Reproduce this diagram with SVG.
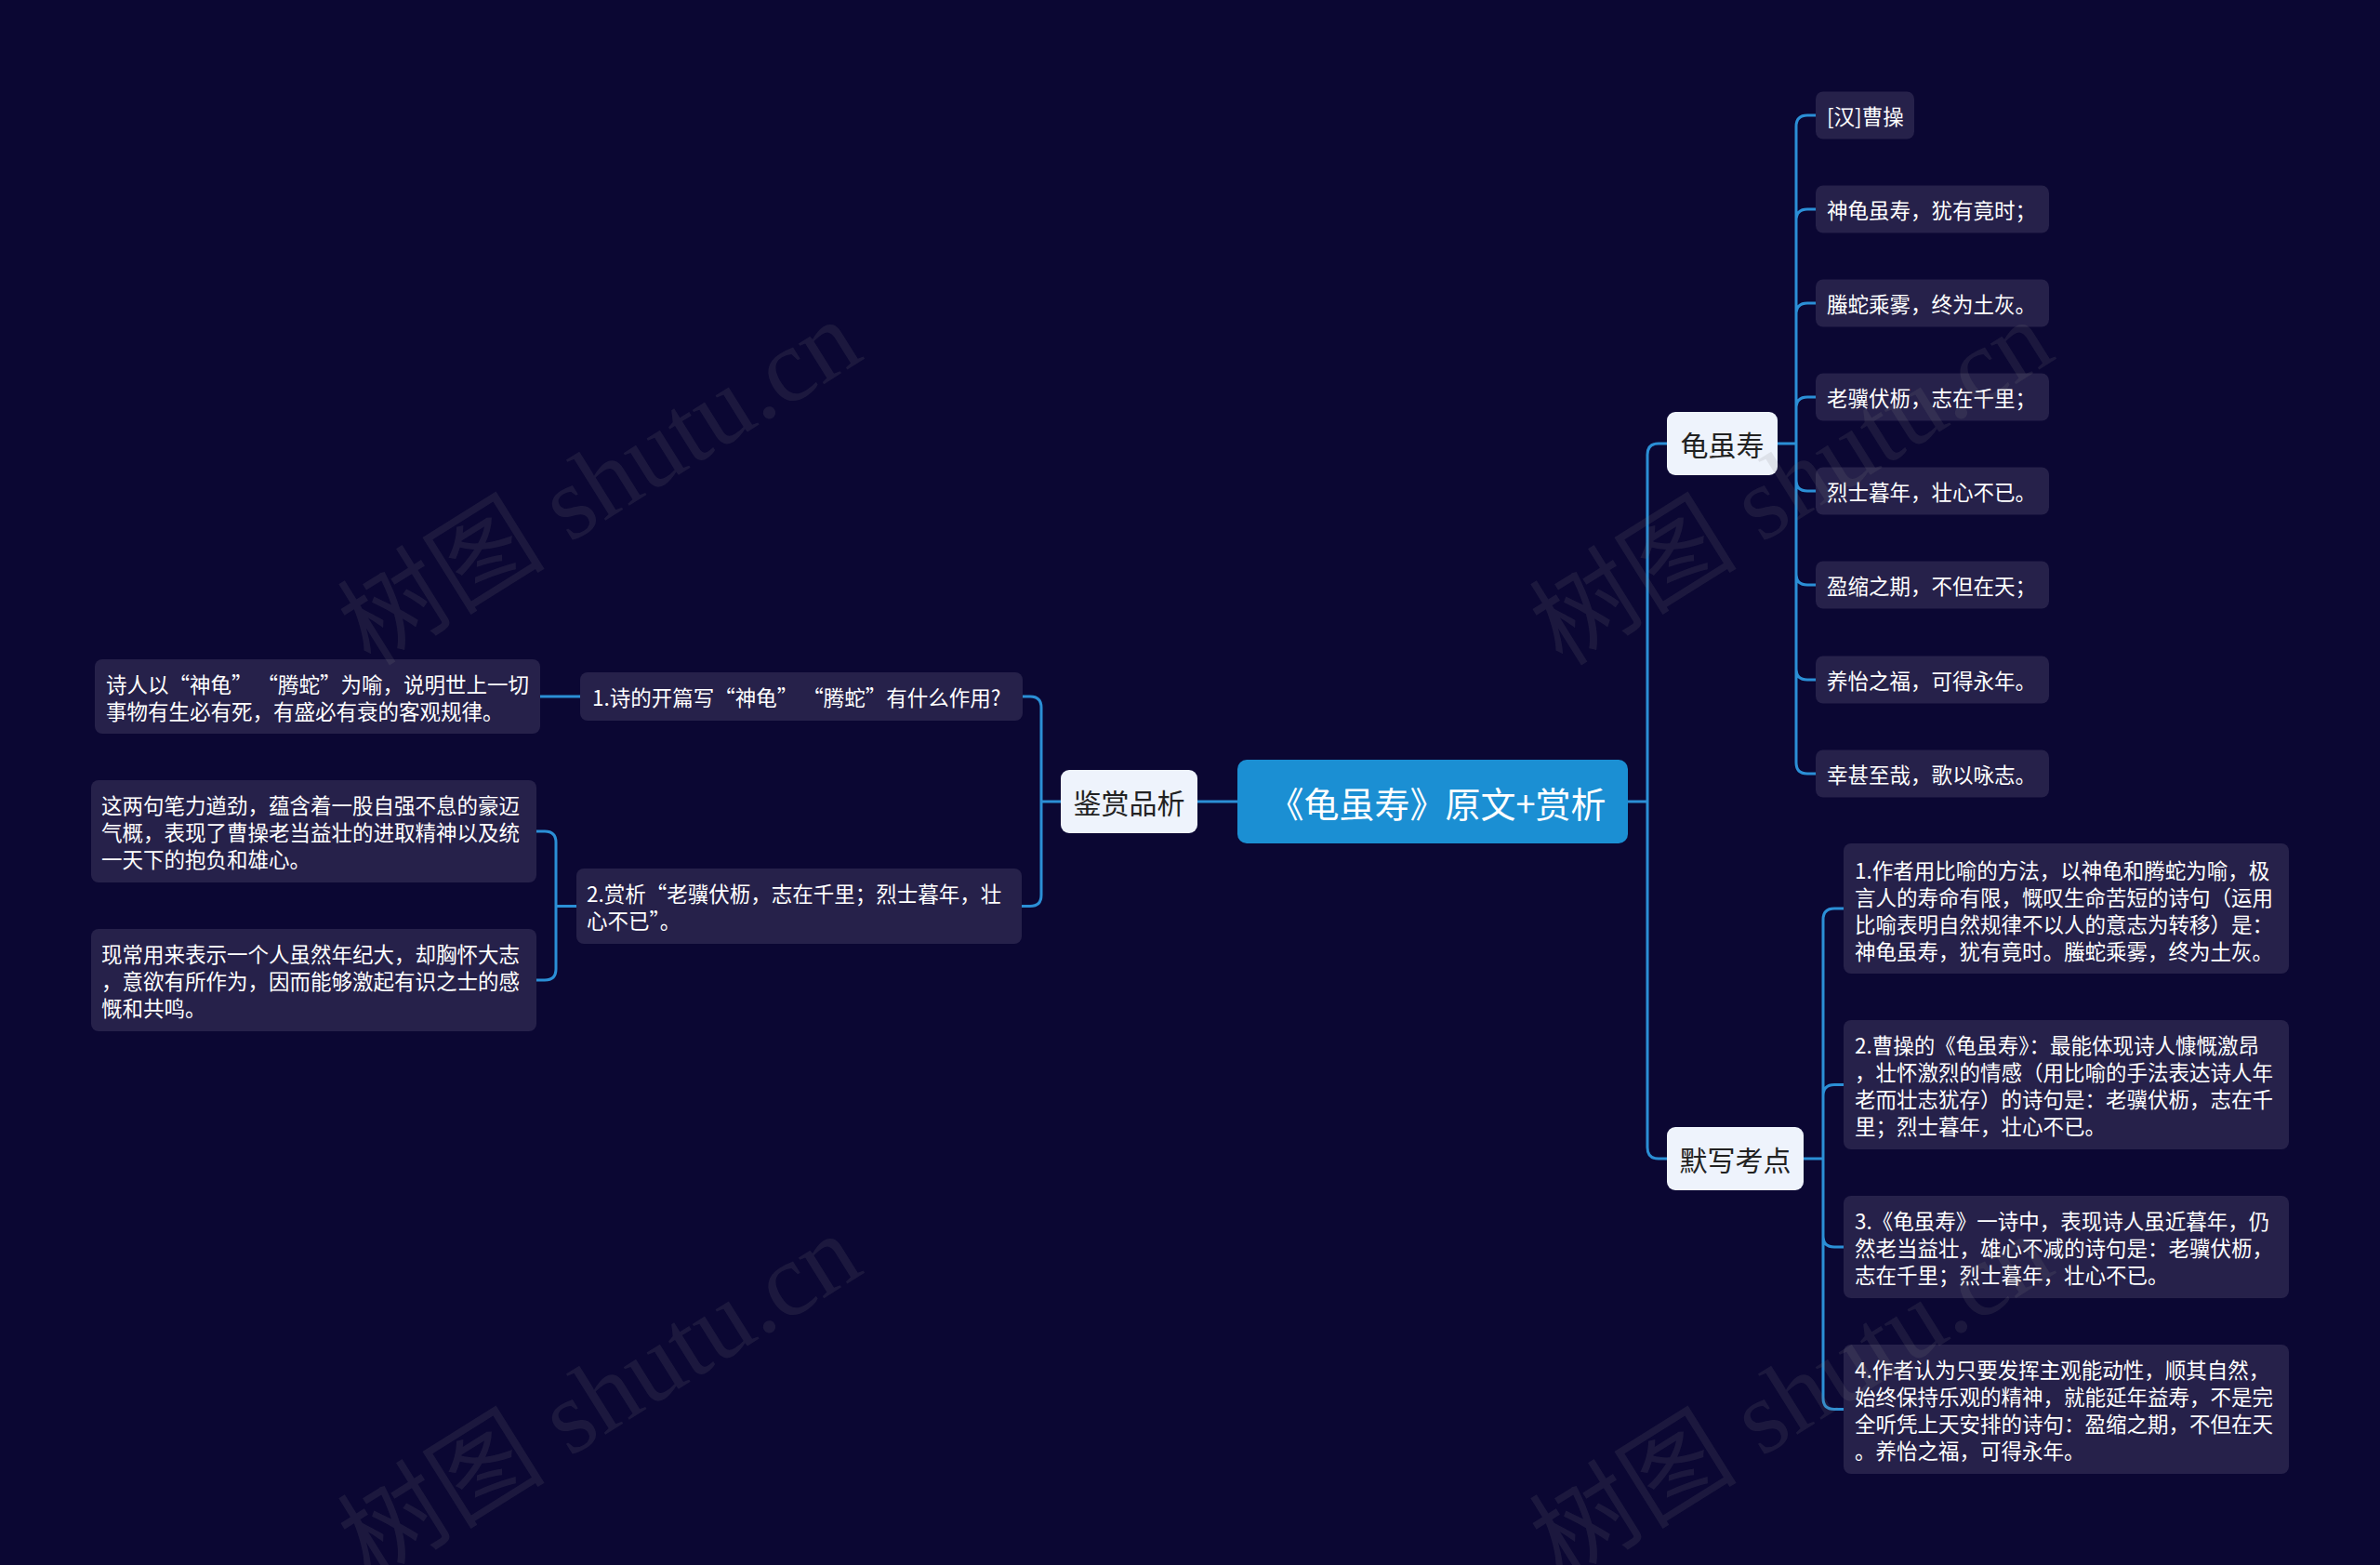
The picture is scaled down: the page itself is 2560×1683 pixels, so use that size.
<svg xmlns="http://www.w3.org/2000/svg" width="2560" height="1683" viewBox="0 0 2560 1683">
<style>
.bg{fill:#0b0733}
.ln{fill:none;stroke:#2b8fd6;stroke-width:3;stroke-linecap:round}
.root{fill:#1b8fd3}
.rt{font-family:"Noto Sans CJK SC","Noto Sans",sans-serif;font-size:38px;fill:#ffffff;text-anchor:middle;dominant-baseline:central}
.mid{fill:#eef3fc}
.mt{font-family:"Noto Sans CJK SC","Noto Sans",sans-serif;font-size:30px;fill:#222222;text-anchor:middle;dominant-baseline:central}
.lf{fill:#26214a}
.lt{font-family:"Noto Sans CJK SC","Noto Sans",sans-serif;font-size:22.5px;fill:#ffffff;dominant-baseline:central}
.wm{font-family:"Liberation Serif","Noto Sans CJK SC",serif;font-size:112px;fill:#808080;fill-opacity:0.15;text-anchor:middle;dominant-baseline:central}
</style>
<rect class="bg" x="0" y="0" width="2560" height="1683"/>
<g id="connectors">
<path class="ln" d="M1751,862 H1772 M1772,862 V489 Q1772,477 1784,477 H1793 M1772,862 V1234 Q1772,1246 1784,1246 H1793"/>
<path class="ln" d="M1912,477 H1932 M1932,477 V136 Q1932,124 1944,124 H1953 M1932,477 V237 Q1932,225 1944,225 H1953 M1932,477 V338 Q1932,326 1944,326 H1953 M1932,477 V439 Q1932,427 1944,427 H1953 M1932,477 V516 Q1932,528 1944,528 H1953 M1932,477 V617 Q1932,629 1944,629 H1953 M1932,477 V719 Q1932,731 1944,731 H1953 M1932,477 V820 Q1932,832 1944,832 H1953"/>
<path class="ln" d="M1940,1246 H1961 M1961,1246 V989 Q1961,977 1973,977 H1983 M1961,1246 V1178.5 Q1961,1166.5 1973,1166.5 H1983 M1961,1246 V1329 Q1961,1341 1973,1341 H1983 M1961,1246 V1503.5 Q1961,1515.5 1973,1515.5 H1983"/>
<path class="ln" d="M1331,862 H1288"/>
<path class="ln" d="M1141,862 H1120 M1120,862 V761 Q1120,749 1108,749 H1100 M1120,862 V962.5 Q1120,974.5 1108,974.5 H1099"/>
<path class="ln" d="M624,749 H581"/>
<path class="ln" d="M620,974.5 H598 M598,974.5 V906 Q598,894 586,894 H577 M598,974.5 V1042 Q598,1054 586,1054 H577"/>
</g>
<g id="root"><rect class="root" x="1331" y="817" width="420" height="90" rx="10"/><text class="rt" x="1546" y="862">《龟虽寿》原文+赏析</text></g>
<g id="n-guisuishou"><rect class="mid" x="1793" y="443" width="119" height="68" rx="9"/><text class="mt" x="1852.5" y="477">龟虽寿</text></g>
<g id="n-moxie"><rect class="mid" x="1793" y="1212" width="147" height="68" rx="9"/><text class="mt" x="1866.5" y="1246">默写考点</text></g>
<g id="n-jianshang"><rect class="mid" x="1141" y="828" width="147" height="68" rx="9"/><text class="mt" x="1214.5" y="862">鉴赏品析</text></g>
<g id="p1"><rect class="lf" x="1953" y="98.5" width="106" height="51" rx="8"/><text class="lt" x="1965" y="124">[汉]曹操</text></g>
<g id="p2"><rect class="lf" x="1953" y="199.5" width="251" height="51" rx="8"/><text class="lt" x="1965" y="225">神龟虽寿，犹有竟时；</text></g>
<g id="p3"><rect class="lf" x="1953" y="300.5" width="251" height="51" rx="8"/><text class="lt" x="1965" y="326">螣蛇乘雾，终为土灰。</text></g>
<g id="p4"><rect class="lf" x="1953" y="401.5" width="251" height="51" rx="8"/><text class="lt" x="1965" y="427">老骥伏枥，志在千里；</text></g>
<g id="p5"><rect class="lf" x="1953" y="502.5" width="251" height="51" rx="8"/><text class="lt" x="1965" y="528">烈士暮年，壮心不已。</text></g>
<g id="p6"><rect class="lf" x="1953" y="603.5" width="251" height="51" rx="8"/><text class="lt" x="1965" y="629">盈缩之期，不但在天；</text></g>
<g id="p7"><rect class="lf" x="1953" y="705.5" width="251" height="51" rx="8"/><text class="lt" x="1965" y="731">养怡之福，可得永年。</text></g>
<g id="p8"><rect class="lf" x="1953" y="806.5" width="251" height="51" rx="8"/><text class="lt" x="1965" y="832">幸甚至哉，歌以咏志。</text></g>
<g id="m1"><rect class="lf" x="1983" y="907" width="479" height="140" rx="8"/><text class="lt"><tspan x="1995" y="934.5">1.作者用比喻的方法，以神龟和腾蛇为喻，极</tspan><tspan x="1995" y="963.5">言人的寿命有限，慨叹生命苦短的诗句（运用</tspan><tspan x="1995" y="992.5">比喻表明自然规律不以人的意志为转移）是：</tspan><tspan x="1995" y="1021.5">神龟虽寿，犹有竟时。螣蛇乘雾，终为土灰。</tspan></text></g>
<g id="m2"><rect class="lf" x="1983" y="1097" width="479" height="139" rx="8"/><text class="lt"><tspan x="1995" y="1123">2.曹操的《龟虽寿》：最能体现诗人慷慨激昂</tspan><tspan x="1995" y="1152">，壮怀激烈的情感（用比喻的手法表达诗人年</tspan><tspan x="1995" y="1181">老而壮志犹存）的诗句是：老骥伏枥，志在千</tspan><tspan x="1995" y="1210">里；烈士暮年，壮心不已。</tspan></text></g>
<g id="m3"><rect class="lf" x="1983" y="1286" width="479" height="110" rx="8"/><text class="lt"><tspan x="1995" y="1312">3.《龟虽寿》一诗中，表现诗人虽近暮年，仍</tspan><tspan x="1995" y="1341">然老当益壮，雄心不减的诗句是：老骥伏枥，</tspan><tspan x="1995" y="1370">志在千里；烈士暮年，壮心不已。</tspan></text></g>
<g id="m4"><rect class="lf" x="1983" y="1446" width="479" height="139" rx="8"/><text class="lt"><tspan x="1995" y="1472">4.作者认为只要发挥主观能动性，顺其自然，</tspan><tspan x="1995" y="1501">始终保持乐观的精神，就能延年益寿，不是完</tspan><tspan x="1995" y="1530">全听凭上天安排的诗句：盈缩之期，不但在天</tspan><tspan x="1995" y="1559">。养怡之福，可得永年。</tspan></text></g>
<g id="q1"><rect class="lf" x="624" y="723" width="476" height="52" rx="8"/><text class="lt" x="637" y="749">1.诗的开篇写“神龟” “腾蛇”有什么作用?</text></g>
<g id="a1"><rect class="lf" x="102" y="709" width="479" height="80" rx="8"/><text class="lt"><tspan x="114" y="735">诗人以“神龟” “腾蛇”为喻，说明世上一切</tspan><tspan x="114" y="764">事物有生必有死，有盛必有衰的客观规律。</tspan></text></g>
<g id="q2"><rect class="lf" x="620" y="934" width="479" height="81" rx="8"/><text class="lt"><tspan x="631" y="960">2.赏析“老骥伏枥，志在千里；烈士暮年，壮</tspan><tspan x="631" y="989">心不已”。</tspan></text></g>
<g id="a2"><rect class="lf" x="98" y="839" width="479" height="110" rx="8"/><text class="lt"><tspan x="109" y="865">这两句笔力遒劲，蕴含着一股自强不息的豪迈</tspan><tspan x="109" y="894">气概，表现了曹操老当益壮的进取精神以及统</tspan><tspan x="109" y="923">一天下的抱负和雄心。</tspan></text></g>
<g id="a3"><rect class="lf" x="98" y="999" width="479" height="110" rx="8"/><text class="lt"><tspan x="109" y="1025">现常用来表示一个人虽然年纪大，却胸怀大志</tspan><tspan x="109" y="1054">，意欲有所作为，因而能够激起有识之士的感</tspan><tspan x="109" y="1083">慨和共鸣。</tspan></text></g>
<g id="watermark">
<text class="wm" transform="translate(645,519) rotate(-32)">树图 shutu.cn</text>
<text class="wm" transform="translate(645,1502) rotate(-32)">树图 shutu.cn</text>
<text class="wm" transform="translate(1927,519) rotate(-32)">树图 shutu.cn</text>
<text class="wm" transform="translate(1927,1502) rotate(-32)">树图 shutu.cn</text>
</g>
</svg>
